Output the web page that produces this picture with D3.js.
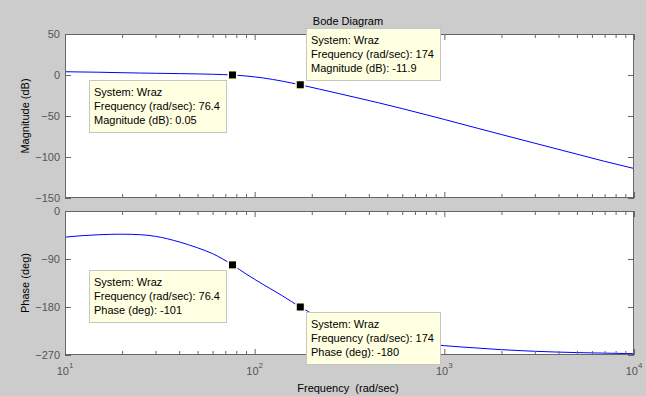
<!DOCTYPE html>
<html>
<head>
<meta charset="utf-8">
<script src="https://cdn.jsdelivr.net/npm/d3@7"></script>
<style>
  html, body { margin: 0; padding: 0; background: #cccccc; }
  svg { display: block; }
  text { font-family: "Liberation Sans", Arial, sans-serif; font-size: 11px; }
</style>
</head>
<body>
<svg id="chart" width="646" height="396"></svg>
<script>
// ---- data ----
const frequency = [10, 12, 15, 20, 25, 30, 40, 50, 60, 76.4, 90, 110, 140, 174, 220, 280, 350, 450, 600, 800, 1000, 1500, 2000, 3000, 5000, 7000, 10000];
const magnitudeDb = [4.0, 3.7, 3.4, 2.8, 2.4, 2.1, 1.7, 1.3, 0.9, 0.05, -1.2, -3.5, -7.5, -11.9, -17.3, -22.8, -28.0, -33.9, -41.0, -48.4, -54.2, -65.0, -72.6, -83.2, -96.5, -105.3, -114.0];
const phaseDeg = [-49, -46.5, -44.5, -43.5, -44.5, -47.5, -58, -69, -80, -101, -118, -137, -159, -180, -200, -217, -228, -237, -244, -249, -252.5, -257, -260, -263, -265.5, -266.5, -267.5];
const magTicks = [50, 0, -50, -100, -150];
const phaseTicks = [0, -90, -180, -270];
const freqMajorTicks = [10, 100, 1000, 10000];
const freqExponents = ["1", "2", "3", "4"];
const dataTipsMag = [
  { system: "Wraz", freq: "76.4", f: 76.4, value: "0.05", v: 0.05, side: "bl" },
  { system: "Wraz", freq: "174", f: 174, value: "-11.9", v: -11.9, side: "tr" }
];
const dataTipsPhase = [
  { system: "Wraz", freq: "76.4", f: 76.4, value: "-101", v: -101, side: "bl" },
  { system: "Wraz", freq: "174", f: 174, value: "-180", v: -180, side: "br" }
];
const titleText = "Bode Diagram";
const magLabel = "Magnitude (dB)";
const phaseLabel = "Phase (deg)";
const xLabel = "Frequency  (rad/sec)";

// ---- layout ----
const svg = d3.select("#chart");
const L = 65, R = 634;
const magTop = 34, magBottom = 198;
const phTop = 211, phBottom = 355;
const axisColor = "#666666";
const tickTextColor = "#555555";

const x = d3.scaleLog().domain([10, 10000]).range([L, R]);
const yMag = d3.scaleLinear().domain([-150, 50]).range([magBottom, magTop]);
const yPh = d3.scaleLinear().domain([-270, 0]).range([phBottom, phTop]);

const minorTicks = [];
for (let d = 10; d < 10000; d *= 10) for (let k = 2; k <= 9; k++) minorTicks.push(d * k);

function drawPanel(y, top, bottom, yTicks, values, label, tips, valueName) {
  const g = svg.append("g");
  // white plot area
  g.append("rect").attr("x", L).attr("y", top).attr("width", R - L).attr("height", bottom - top)
    .attr("fill", "#ffffff");

  // curve
  const line = d3.line().x((d, i) => x(frequency[i])).y(d => y(d)).curve(d3.curveMonotoneX);
  g.append("path").datum(values).attr("d", line)
    .attr("fill", "none").attr("stroke", "#0000ff").attr("stroke-width", 1);

  // axes (ticks inward)
  const styleAxis = sel => {
    sel.select(".domain").remove();
    sel.selectAll("line").attr("stroke", axisColor);
    sel.selectAll("text").attr("fill", tickTextColor).style("font-size", "11px")
      .style("font-family", '"Liberation Sans", Arial, sans-serif');
  };
  g.append("g").attr("transform", `translate(${L},0)`)
    .call(d3.axisLeft(y).tickValues(yTicks).tickSize(-6).tickPadding(5).tickFormat(d3.format("d")))
    .call(styleAxis);
  g.append("g").attr("transform", `translate(${R},0)`)
    .call(d3.axisRight(y).tickValues(yTicks).tickSize(-6).tickFormat(""))
    .call(styleAxis);
  [[top, d3.axisTop], [bottom, d3.axisBottom]].forEach(([yy, ax]) => {
    const sign = ax === d3.axisTop ? 1 : 1;
    g.append("g").attr("transform", `translate(0,${yy})`)
      .call(ax(x).tickValues(freqMajorTicks).tickSize(-6).tickFormat(""))
      .call(styleAxis);
    g.append("g").attr("transform", `translate(0,${yy})`)
      .call(ax(x).tickValues(minorTicks).tickSize(-4).tickFormat(""))
      .call(styleAxis);
  });

  // box
  g.append("rect").attr("x", L + 0.5).attr("y", top + 0.5).attr("width", R - L - 1).attr("height", bottom - top - 1)
    .attr("fill", "none").attr("stroke", axisColor).attr("stroke-width", 1);

  // y label
  g.append("text").attr("transform", `translate(29,${(top + bottom) / 2}) rotate(-90)`)
    .attr("text-anchor", "middle").attr("fill", "#000").text(label);

  // data tips
  tips.forEach(t => {
    const mx = x(t.f), my = y(t.v);
    const tg = svg.append("g");
    const lines = ["System: " + t.system, "Frequency (rad/sec): " + t.freq, valueName + ": " + t.value];
    const tmp = tg.append("text").text(lines[1]);
    const w = Math.ceil(tmp.node().getComputedTextLength()) + 11;
    tmp.remove();
    const h = 52;
    let bx, by;
    if (t.side === "bl") { bx = mx - 6 - w; by = my + 5; }
    else if (t.side === "br") { bx = mx + 6; by = my + 5; }
    else { bx = mx + 6; by = my - 5 - h; }
    tg.append("rect").attr("x", Math.round(bx) + 0.5).attr("y", Math.round(by) + 0.5).attr("width", w).attr("height", h)
      .attr("fill", "#ffffe1").attr("stroke", "#c6c6c0");
    lines.forEach((s, i) => {
      tg.append("text").attr("x", Math.round(bx) + 5).attr("y", Math.round(by) + 16 + i * 14)
        .attr("fill", "#000").text(s);
    });
    tg.append("rect").attr("x", mx - 5).attr("y", my - 5).attr("width", 10).attr("height", 10)
      .attr("fill", "#ffffe1");
    tg.append("rect").attr("x", mx - 3.5).attr("y", my - 3.5).attr("width", 7).attr("height", 7)
      .attr("fill", "#000");
  });
}

drawPanel(yMag, magTop, magBottom, magTicks, magnitudeDb, magLabel, dataTipsMag, "Magnitude (dB)");
drawPanel(yPh, phTop, phBottom, phaseTicks, phaseDeg, phaseLabel, dataTipsPhase, "Phase (deg)");

// x tick labels (10^n)
const xl = svg.append("g");
freqMajorTicks.forEach((f, i) => {
  const t = xl.append("text").attr("x", x(f)).attr("y", 375).attr("text-anchor", "middle").attr("fill", tickTextColor);
  t.append("tspan").text("10");
  t.append("tspan").attr("dy", -7).style("font-size", "8px").text(freqExponents[i]);
});

// title and x label
svg.append("text").attr("x", 348).attr("y", 25).attr("text-anchor", "middle").attr("fill", "#000").text(titleText);
svg.append("text").attr("x", 348).attr("y", 392).attr("text-anchor", "middle").attr("fill", "#000")
  .attr("xml:space", "preserve").style("white-space", "pre").text(xLabel);
</script>
</body>
</html>
